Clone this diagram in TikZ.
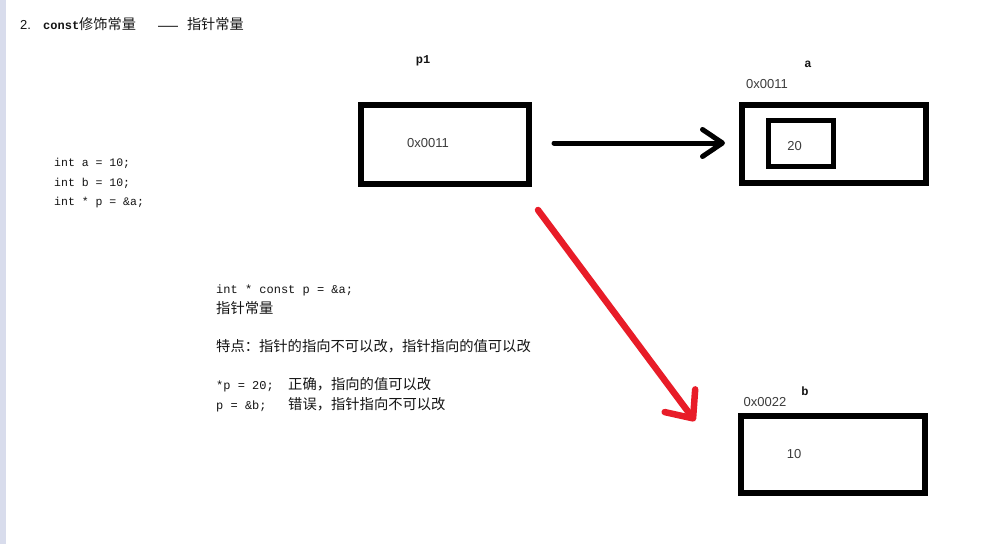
\documentclass[tikz,border=0pt]{standalone}
\usepackage{fontspec}
\newfontfamily\cjk{Noto Sans CJK SC}
\newfontfamily\lsans{Liberation Sans}
\newfontfamily\lmono{Liberation Mono}
\usetikzlibrary{arrows.meta}
\definecolor{stripcol}{RGB}{216,220,236}
\definecolor{txt}{RGB}{20,20,20}
\definecolor{lbl}{RGB}{60,60,60}
\definecolor{redarrow}{RGB}{232,28,40}
\begin{document}
\begin{tikzpicture}[x=1pt,y=-1pt,
  membox/.style={draw=black, line width=6pt, inner sep=0pt},
  code/.style={anchor=base west, inner sep=0pt, text=txt, font=\fontsize{12}{15}\lmono},
  cjkline/.style={anchor=base west, inner sep=0pt, text=txt, font=\fontsize{14.3}{17}\cjk},
  addr/.style={inner sep=0pt, text=lbl, font=\fontsize{13}{15}\lsans},
  varname/.style={inner sep=0pt, text=txt, font=\fontsize{12}{15}\lmono\bfseries},
  ptrarrow/.style={line width=5pt, line cap=round, -{Straight Barb[length=20pt,width=27pt,round]}},
  redptr/.style={draw=redarrow, line width=6.5pt, line cap=round, -{Straight Barb[length=22pt,width=38pt,round]}}
]
\useasboundingbox (0,0) rectangle (1000,544);
\fill[white] (0,0) rectangle (1000,544);
\fill[stripcol] (0,0) rectangle (6,544);

% title
\node[anchor=base west, inner sep=0pt, text=txt] (title) at (20,29.5)
  {{\fontsize{13}{15}\lsans 2.}\hspace{12.2pt}{\fontsize{12}{15}\lmono\bfseries const}{\fontsize{14.2}{17}\cjk 修饰常量}\hspace{22pt}{\fontsize{10}{12}\lsans\bfseries ——}\hspace{9pt}{\fontsize{14.2}{17}\cjk 指针常量}};

% left code
\node[code, font=\fontsize{11.5}{14}\lmono] (c1) at (54,166.5) {int a = 10;};
\node[code, font=\fontsize{11.5}{14}\lmono] (c2) at (54,186.5) {int b = 10;};
\node[code, font=\fontsize{11.5}{14}\lmono] (c3) at (54,205.5) {int * p = \&a;};

% middle text
\node[code] (m1) at (216,293) {int * const p = \&a;};
\node[cjkline] (m2) at (216,313.5) {指针常量};
\node[cjkline] (m3) at (216,351.5) {特点：指针的指向不可以改，指针指向的值可以改};
\node[code] (m4) at (216,389.5) {*p = 20;\hspace*{14.4pt}{\fontsize{14.3}{17}\cjk 正确，指向的值可以改}};
\node[code] (m5) at (216,409.5) {p = \&b;\hspace*{21.6pt}{\fontsize{14.3}{17}\cjk 错误，指针指向不可以改}};

% boxes
\node[membox, minimum width=168pt, minimum height=79pt] (p1box) at (445,144.5) {};
\node[membox, minimum width=184pt, minimum height=78pt] (abox) at (834,144) {};
\node[membox, line width=5pt, minimum width=65pt, minimum height=46pt] (ainner) at (801,143.5) {};
\node[membox, minimum width=184pt, minimum height=77pt] (bbox) at (833,454.5) {};

% labels
\node[varname] (p1name) at (423,61) {p1};
\node[varname] (aname) at (808,64) {a};
\node[varname] (bname) at (805,391) {b};
\node[addr] (p1val) at (428,143) {0x0011};
\node[addr] (aaddr) at (767,84) {0x0011};
\node[addr] (baddr) at (765,402) {0x0022};
\node[addr] (aval) at (794.5,146) {20};
\node[addr] (bval) at (794,454) {10};

% arrows
\draw[ptrarrow, shorten <=22pt, shorten >=14pt] ([yshift=1.5pt]p1box.east) -- ([yshift=1.5pt]p1box.east -| abox.west);
\coordinate (rs) at (538,210);
\coordinate (re) at (695,421);
\draw[redptr] (rs) -- (re);
\end{tikzpicture}
\end{document}
